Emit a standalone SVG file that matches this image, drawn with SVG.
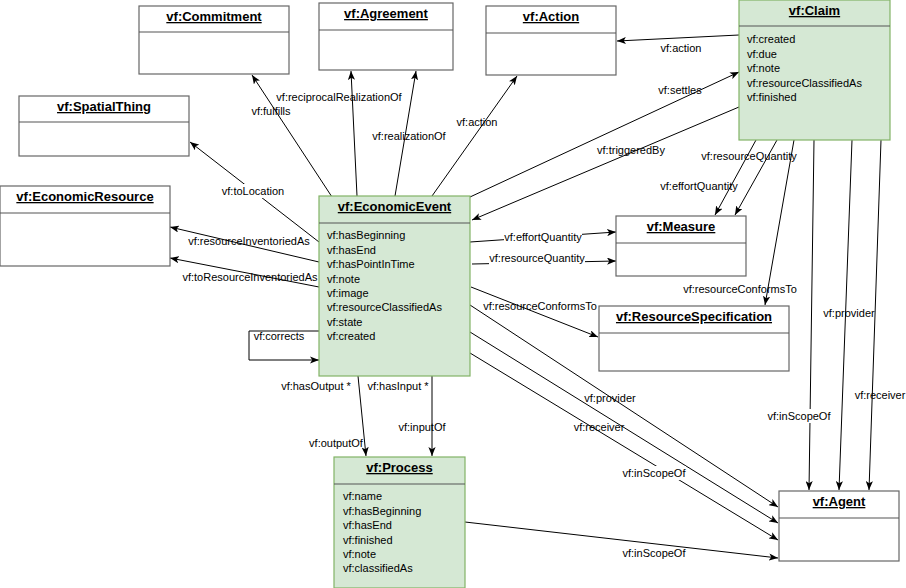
<svg xmlns="http://www.w3.org/2000/svg" width="906" height="588" viewBox="0 0 906 588">
<defs>
<marker id="arr" viewBox="0 0 10 8" refX="10" refY="4" markerWidth="9" markerHeight="7.2" markerUnits="userSpaceOnUse" orient="auto">
<path d="M0,0 L10,4 L0,8 L2.5,4 z" fill="#000"/>
</marker>
<style>
.box{fill:#fff;stroke:#666;stroke-width:1.2}
.green{fill:#d5e8d4;stroke:#82b366;stroke-width:1.2}
.sep{stroke:#555;stroke-width:1.2}
.title{font-family:"Liberation Sans",Arial,sans-serif;font-size:13px;font-weight:bold;text-anchor:middle;text-decoration:underline;fill:#000}
.attr{font-family:"Liberation Sans",Arial,sans-serif;font-size:11px;fill:#000}
.lbl{font-family:"Liberation Sans",Arial,sans-serif;font-size:11px;fill:#000;text-anchor:middle}
.edge{fill:none;stroke:#000;stroke-width:1;marker-end:url(#arr)}
.plain{fill:none;stroke:#000;stroke-width:1}
.bg{fill:#fff}
</style>
</defs>

<g id="connectors">
<path class="edge" d="M332,197 L252,75"/>
<path class="edge" d="M357,196 L351,71"/>
<path class="edge" d="M395,196 L416,71"/>
<path class="edge" d="M432,196 L517,76"/>
<path class="edge" d="M739,35 L617,41"/>
<path class="edge" d="M470,197 L739,72"/>
<path class="edge" d="M739,107 L472,220"/>
<path class="edge" d="M319,262 L170,227"/>
<path class="edge" d="M319,287 L170,258"/>
<path class="edge" d="M319,242 L190,142"/>
<path class="edge" d="M319,331 L249,331 L249,360 L319,360"/>
<path class="edge" d="M470,242 L616,232"/>
<path class="edge" d="M472,264 L616,261"/>
<path class="edge" d="M471,287 L598,337"/>
<path class="edge" d="M470,305 L778,507"/>
<path class="edge" d="M470,332 L778,523"/>
<path class="edge" d="M470,353 L778,540"/>
<path class="edge" d="M465,522 L778,558"/>
<path class="edge" d="M358,376 L366,456"/>
<path class="edge" d="M432,376 L432,456"/>
<path class="edge" d="M756,140 L715,215"/>
<path class="edge" d="M777,140 L735,215"/>
<path class="edge" d="M794,140 L765,305"/>
<path class="edge" d="M814,140 L809,490"/>
<path class="edge" d="M852,140 L839,490"/>
<path class="edge" d="M881,140 L869,490"/>

<g id="edge-labels">
<text class="lbl" x="271" y="115">vf:fulfills</text>
<text class="lbl" x="339" y="101">vf:reciprocalRealizationOf</text>
<text class="lbl" x="409" y="140">vf:realizationOf</text>
<text class="lbl" x="477" y="126">vf:action</text>
<text class="lbl" x="681" y="52">vf:action</text>
<text class="lbl" x="680" y="94">vf:settles</text>
<text class="lbl" x="631" y="154">vf:triggeredBy</text>
<text class="lbl" x="249" y="245">vf:resourceInventoriedAs</text>
<text class="lbl" x="250" y="281">vf:toResourceInventoriedAs</text>
<rect class="bg" x="222" y="184" width="64" height="14"/>
<text class="lbl" x="253" y="195">vf:toLocation</text>
<text class="lbl" x="279" y="340">vf:corrects</text>
<rect class="bg" x="504" y="230" width="78" height="14"/>
<text class="lbl" x="543" y="241">vf:effortQuantity</text>
<rect class="bg" x="489" y="251" width="96" height="14"/>
<text class="lbl" x="537" y="262">vf:resourceQuantity</text>
<text class="lbl" x="540" y="310">vf:resourceConformsTo</text>
<text class="lbl" x="610" y="402">vf:provider</text>
<text class="lbl" x="599" y="431">vf:receiver</text>
<rect class="bg" x="622" y="466" width="64" height="14"/>
<text class="lbl" x="654" y="477">vf:inScopeOf</text>
<text class="lbl" x="654" y="557">vf:inScopeOf</text>
<text class="lbl" x="316" y="390">vf:hasOutput *</text>
<text class="lbl" x="336" y="447">vf:outputOf</text>
<text class="lbl" x="398" y="390">vf:hasInput *</text>
<text class="lbl" x="422" y="431">vf:inputOf</text>
<text class="lbl" x="699" y="190">vf:effortQuantity</text>
<text class="lbl" x="749" y="160">vf:resourceQuantity</text>
<text class="lbl" x="740" y="293">vf:resourceConformsTo</text>
<rect class="bg" x="767" y="409" width="64" height="14"/>
<text class="lbl" x="799" y="420">vf:inScopeOf</text>
<text class="lbl" x="849" y="317">vf:provider</text>
<text class="lbl" x="880" y="399">vf:receiver</text>
</g>
</g>

<g id="commitment">
<rect class="box" x="139" y="6" width="150" height="68"/>
<line class="sep" x1="139" y1="32" x2="289" y2="32"/>
<text class="title" x="214" y="21">vf:Commitment</text>
</g>

<g id="agreement">
<rect class="box" x="319" y="3" width="134" height="67"/>
<line class="sep" x1="319" y1="30" x2="453" y2="30"/>
<text class="title" x="386" y="18">vf:Agreement</text>
</g>

<g id="action">
<rect class="box" x="486" y="6" width="130" height="69"/>
<line class="sep" x1="486" y1="33" x2="616" y2="33"/>
<text class="title" x="551" y="21">vf:Action</text>
</g>

<g id="claim">
<rect class="green" x="739" y="0" width="151" height="140"/>
<line class="sep" x1="739" y1="26" x2="890" y2="26"/>
<text class="title" x="814.5" y="15">vf:Claim</text>
<text class="attr" x="747" y="43">vf:created</text>
<text class="attr" x="747" y="58">vf:due</text>
<text class="attr" x="747" y="72">vf:note</text>
<text class="attr" x="747" y="87">vf:resourceClassifiedAs</text>
<text class="attr" x="747" y="101">vf:finished</text>
</g>

<g id="spatialthing">
<rect class="box" x="19" y="96" width="170" height="60"/>
<line class="sep" x1="19" y1="122" x2="189" y2="122"/>
<text class="title" x="104" y="111">vf:SpatialThing</text>
</g>

<g id="economicresource">
<rect class="box" x="0" y="186" width="170" height="80"/>
<line class="sep" x1="0" y1="213" x2="170" y2="213"/>
<text class="title" x="85" y="201">vf:EconomicResource</text>
</g>

<g id="economicevent">
<rect class="green" x="319" y="196" width="151" height="180"/>
<line class="sep" x1="319" y1="223" x2="470" y2="223"/>
<text class="title" x="394.5" y="211">vf:EconomicEvent</text>
<text class="attr" x="327" y="239">vf:hasBeginning</text>
<text class="attr" x="327" y="254">vf:hasEnd</text>
<text class="attr" x="327" y="268">vf:hasPointInTime</text>
<text class="attr" x="327" y="283">vf:note</text>
<text class="attr" x="327" y="297">vf:image</text>
<text class="attr" x="327" y="311">vf:resourceClassifiedAs</text>
<text class="attr" x="327" y="326">vf:state</text>
<text class="attr" x="327" y="340">vf:created</text>
</g>

<g id="measure">
<rect class="box" x="616" y="216" width="130" height="60"/>
<line class="sep" x1="616" y1="243" x2="746" y2="243"/>
<text class="title" x="681" y="231">vf:Measure</text>
</g>

<g id="resourcespecification">
<rect class="box" x="599" y="306" width="190" height="65"/>
<line class="sep" x1="599" y1="333" x2="789" y2="333"/>
<text class="title" x="694" y="321">vf:ResourceSpecification</text>
</g>

<g id="process">
<rect class="green" x="334" y="457" width="131" height="131"/>
<line class="sep" x1="334" y1="484" x2="465" y2="484"/>
<text class="title" x="399.5" y="472">vf:Process</text>
<text class="attr" x="343" y="500">vf:name</text>
<text class="attr" x="343" y="515">vf:hasBeginning</text>
<text class="attr" x="343" y="529">vf:hasEnd</text>
<text class="attr" x="343" y="544">vf:finished</text>
<text class="attr" x="343" y="558">vf:note</text>
<text class="attr" x="343" y="572">vf:classifiedAs</text>
</g>

<g id="agent">
<rect class="box" x="779" y="491" width="120" height="70"/>
<line class="sep" x1="779" y1="518" x2="899" y2="518"/>
<text class="title" x="839" y="506">vf:Agent</text>
</g>
</svg>
